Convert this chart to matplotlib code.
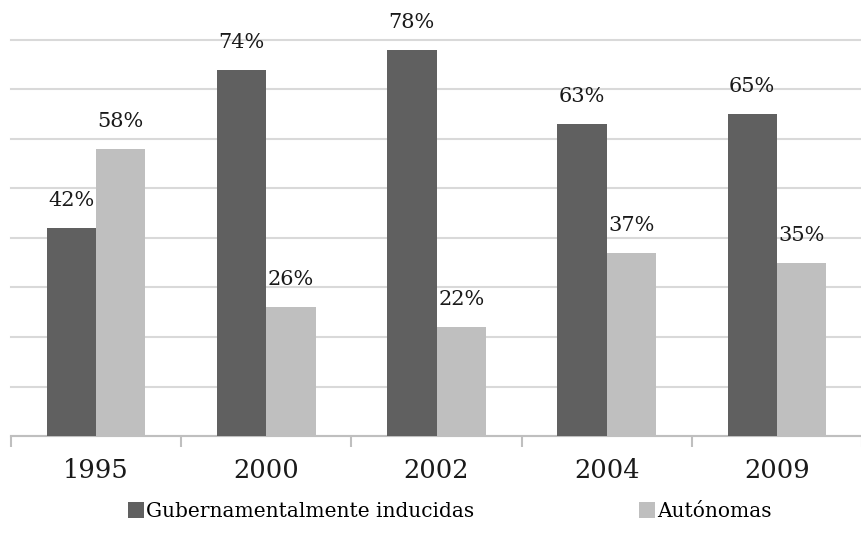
import matplotlib
matplotlib.use("Agg")
import matplotlib.pyplot as plt
import numpy as np

years = ["1995", "2000", "2002", "2004", "2009"]
gubernamentales = [42, 74, 78, 63, 65]
autonomas = [58, 26, 22, 37, 35]
series_names = ["Gubernamentalmente inducidas", "Autónomas"]

DARK, LIGHT, GRID, AXIS = "#606060", "#bfbfbf", "#d9d9d9", "#bfbfbf"
plt.rcParams["font.family"] = ["DejaVu Serif"]

fig = plt.figure(figsize=(8.62, 5.39), dpi=100)
ax = fig.add_axes([0.0128, 0.191, 0.9872, 0.735])

x = np.arange(len(years))
w = 0.29
b1 = ax.bar(x - w / 2, gubernamentales, w, color=DARK, zorder=3, label=series_names[0])
b2 = ax.bar(x + w / 2, autonomas, w, color=LIGHT, zorder=3, label=series_names[1])
for bars in (b1, b2):
    for r in bars:
        ax.text(r.get_x() + r.get_width() / 2, r.get_height() + 3.6, f"{r.get_height():.0f}%",
                ha="center", va="bottom", fontsize=15, color="#1a1a1a")

ax.set_xlim(-0.5, len(years) - 0.5)
ax.set_ylim(0, 80)
ax.set_yticks(np.arange(0, 81, 10))
ax.yaxis.grid(True, color=GRID, lw=1.5, zorder=0)
for gl in ax.get_ygridlines():
    gl.set_clip_on(False)
ax.tick_params(axis="y", left=False, labelleft=False)
for s in ("top", "right", "left"):
    ax.spines[s].set_visible(False)
ax.spines["bottom"].set_color(AXIS)
ax.spines["bottom"].set_linewidth(1.5)

ax.set_xticks(x)
ax.set_xticklabels(years, fontsize=18.5, color="#1a1a1a")
ax.set_xticks(np.arange(len(years) + 1) - 0.5, minor=True)
ax.tick_params(axis="x", which="major", length=0, pad=16)
ax.tick_params(axis="x", which="minor", length=8, width=1.5, color=AXIS)

fig.legend(handles=[b1, b2], loc="lower center", bbox_to_anchor=(0.522, 0.0), ncol=2,
           frameon=False, fontsize=14.5, handlelength=0.8, handleheight=0.8,
           handletextpad=0.1, columnspacing=8.2)

fig.savefig("out.png", dpi=100)
